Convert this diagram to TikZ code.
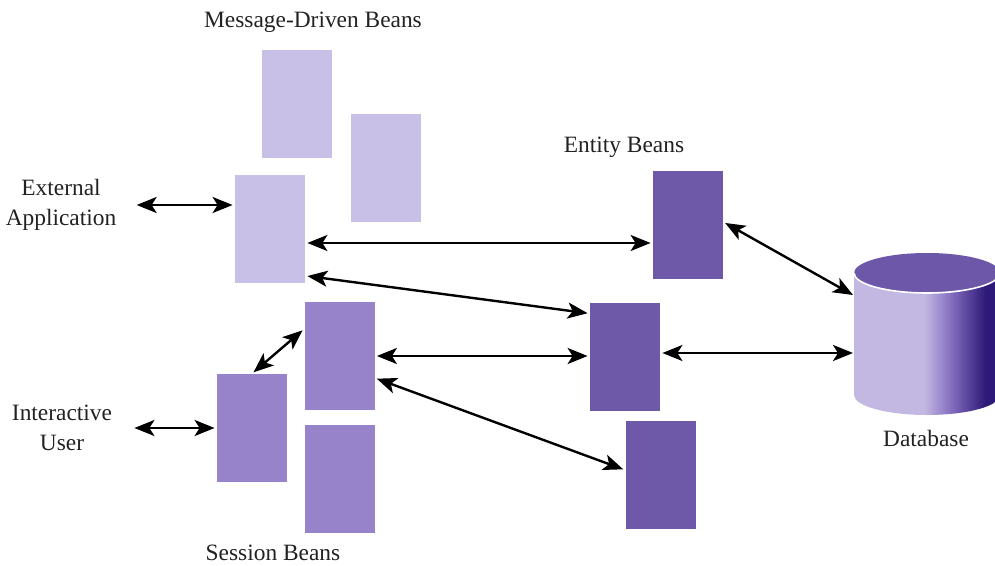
\documentclass[tikz,border=0pt]{standalone}
\usepackage{fontspec}
\setmainfont{Liberation Serif}
\usetikzlibrary{arrows.meta,calc}

\definecolor{mdbColor}{HTML}{C9C0E8}
\definecolor{sbColor}{HTML}{9683C9}
\definecolor{ebColor}{HTML}{6E58A8}
\definecolor{dbLight}{HTML}{C3B8E2}
\definecolor{dbMid}{HTML}{7E68BA}
\definecolor{dbDark}{HTML}{2E1A78}
\definecolor{dbTop}{HTML}{6D57A8}
\definecolor{labelColor}{HTML}{222222}
% path box spans 25bp..75bp of the shading
\pgfdeclarehorizontalshading{dbshade}{100bp}{color(0bp)=(dbLight); color(49bp)=(dbLight); color(59bp)=(dbMid); color(70bp)=(dbDark); color(100bp)=(dbDark)}

\begin{document}
\begin{tikzpicture}[x=0.5pt, y=-0.5pt,
    bean/.style={rectangle, draw=none, inner sep=0pt, minimum width=35pt, minimum height=54pt},
    lbl/.style={text=labelColor, inner sep=0pt, align=center, font=\fontsize{11.7}{15}\selectfont},
    link/.style={{Stealth[length=10pt,width=8pt,inset=2.5pt]}-{Stealth[length=10pt,width=8pt,inset=2.5pt]}, line width=1.2pt, black}]
    \useasboundingbox (0,0) rectangle (995,566);

    % Message-Driven Beans
    \node[bean, fill=mdbColor] (mdbA) at (297,104) {};
    \node[bean, fill=mdbColor] (mdbB) at (386,168.5) {};
    \node[bean, fill=mdbColor] (mdbC) at (270,229) {};
    \node[lbl] (mdbLabel) at (313,22) {Message-Driven Beans};

    % Session Beans
    \node[bean, fill=sbColor] (sbA) at (339.5,356) {};
    \node[bean, fill=sbColor] (sbB) at (252,428) {};
    \node[bean, fill=sbColor] (sbC) at (339.5,479) {};
    \node[lbl] (sbLabel) at (273,553) {Session Beans};

    % Entity Beans
    \node[bean, fill=ebColor] (ebA) at (688,225) {};
    \node[bean, fill=ebColor] (ebB) at (625,357) {};
    \node[bean, fill=ebColor] (ebC) at (660.5,475) {};
    \node[lbl] (ebLabel) at (624,147) {Entity Beans};

    % clients
    \node[lbl] (ext) at (61,205) {External\\Application};
    \node[lbl] (user) at (62,428) {Interactive\\User};

    % Database cylinder
    \shade[shading=dbshade] (854,273) -- (854,395)
        arc[start angle=180, end angle=0, x radius=73, y radius=20] -- (1000,273)
        arc[start angle=0, end angle=180, x radius=73, y radius=20] -- cycle;
    \fill[dbTop] (927,273) ellipse[x radius=73, y radius=20];
    \draw[white, line width=0.8pt] (1000,273) arc[start angle=0, end angle=180, x radius=73, y radius=20];
    \coordinate (dbHigh) at (853,295);
    \coordinate (dbMidLeft) at (853,353);
    \node[lbl] (dbLabel) at (926,438) {Database};

    % connectors
    \coordinate (mdbOut) at ($(mdbC.east)+(0,14)$);
    \draw[link, shorten <=10pt, shorten >=1pt] (ext.east) -- (ext.east -| mdbC.west);
    \draw[link, shorten <=11pt, shorten >=1pt] (user.east) -- (user.east -| sbB.west);
    \draw[link, shorten <=1pt, shorten >=1pt] (mdbOut) -- (mdbOut -| ebA.west);
    \draw[link, shorten <=1pt, shorten >=1pt] ($(mdbC.north east)!0.93!(mdbC.south east)$) -- ($(ebB.north west)!0.1!(ebB.south west)$);
    \draw[link, shorten <=1pt, shorten >=1pt] (sbA.east) -- (sbA.east -| ebB.west);
    \draw[link, shorten <=1pt, shorten >=1pt] ($(sbA.east)+(0,22)$) -- ($(ebC.west)+(0,-5)$);
    \draw[link, shorten <=1pt, shorten >=1pt] (sbB.north) -- ($(sbA.west)+(0,-27)$);
    \draw[link, shorten <=1pt, shorten >=0pt] (ebB.east |- dbMidLeft) -- (dbMidLeft);
    \draw[link, shorten <=1pt, shorten >=0pt] ($(ebA.east)+(0,-3)$) -- (dbHigh);
\end{tikzpicture}
\end{document}
